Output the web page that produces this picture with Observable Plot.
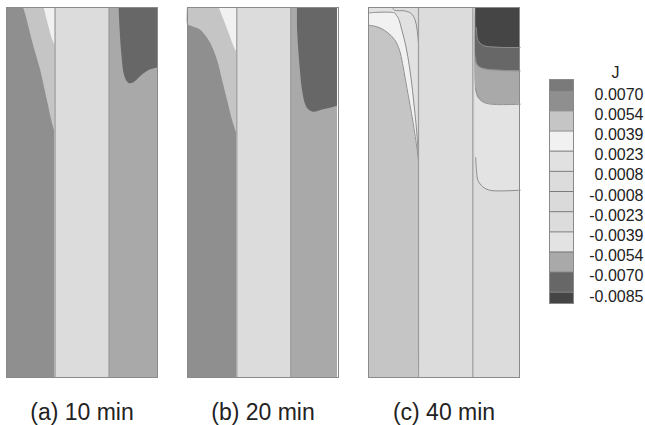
<!DOCTYPE html>
<html><head><meta charset="utf-8">
<script src="https://cdn.jsdelivr.net/npm/d3@7"></script>
<script src="https://cdn.jsdelivr.net/npm/@observablehq/plot@0.6"></script>
<style>
body{margin:0;background:#fff;}
#wrap{position:relative;width:645px;height:425px;font-family:"Liberation Sans",Arial,sans-serif;}
#legend{position:absolute;left:540px;top:0;}
#main{position:absolute;left:0;top:0;}
</style></head><body><div id="wrap"><div id="main"></div><div id="legend"></div></div>
<script>
// ---- data ----
const panels = ["(a) 10 min", "(b) 20 min", "(c) 40 min"];
const levelLabels = ["0.0070","0.0054","0.0039","0.0023","0.0008","-0.0008","-0.0023","-0.0039","-0.0054","-0.0070","-0.0085"];
const levelColors = ["#7a7a7a","#8f8f8f","#c5c5c5","#f1f1f1","#e1e1e1","#dcdcdc","#dadada","#dcdcdc","#e3e3e3","#a9a9a9","#676767","#454545"]; // top -> bottom

// column edges (x across panel) and column values of J
const edgesA = [0, 48.6, 102.6, 151];
const edgesB = [0, 49.3, 103.3, 150];
const edgesC = [0, 50, 104.3, 151.7];
const columnJA = [0.0062, 0, -0.0062];
const columnJB = [0.0062, 0, -0.0062];
const columnJC = [0.0015, 0, -0.0031];

// region boundaries in left columns: [depth, x]
const aBandEdge = [[0,17],[10,20],[26,24],[45,29],[62,34],[80,38],[98,42],[112,45],[125,48.6]];
const aTipEdge  = [[0,37.6],[10,40],[20,42.6],[30,45.3],[38,48.6]];
const bBandEdge = [[0,0],[17,0],[18,2],[19.5,6],[22.7,13.3],[28,18],[36,23.3],[52.7,30],[72.7,35],[92.7,40],[112.7,45],[126,49.3]];
const bTipEdge  = [[0,31.6],[12.7,36.6],[26,41.6],[39.4,46.6],[44.4,49.3]];
const cCornerEdge = [[0,24],[2.7,26],[3.4,36],[6,42.7],[12.7,46.7],[22.7,48.7],[36,50]];
const cWhiteEdge  = [[5.4,26],[8,28],[11,30],[22.7,33.4],[39.4,37.5],[59.4,41],[82.7,44],[106,46.5],[129,48.6],[149,49.8],[153,50]];
const cLowEdge    = [[17.7,0],[18.7,5.9],[21,12.7],[25.4,19.4],[32,26],[42.7,31],[56,34],[72.7,37],[89.4,40],[106,43],[126,46.3],[149,49.5],[153,50],[370,50]];
// region boundaries in right columns: [x, depth]
const aDarkEdge = [[112.6,0],[113.5,20],[115,43],[117.6,66],[119.5,72],[122.6,76],[127,75.5],[134.3,69],[142.6,63],[151,60.5]];
const bDarkEdge = [[110,0],[110.3,26],[112.6,59.4],[115,82.7],[118.3,97.7],[121,102],[125,104.4],[129,104.5],[133.3,103],[141.6,101],[150,98.7]];
const cE2Edge = [[107,0],[107.2,150],[108,163],[109.4,172.7],[114.4,179.4],[121,182.7],[132.7,183.4],[151.7,182.7]];
const cA8Edge = [[106.7,0],[107,80],[109.4,89.4],[114.4,94.4],[122.7,96.7],[151.7,96.7]];
const c66Edge = [[107,0],[107.3,50],[108,56],[111,59.4],[117.7,61.7],[151.7,63.4]];
const c44Edge = [[107.7,0],[108,20],[109.4,32.7],[114.4,37.7],[122.7,39.4],[151.7,40]];

// ---- build tables ----
const levels = levelLabels.map(Number);
const thresholds = levels.slice().reverse();
const colorsAsc = levelColors.slice().reverse();
const colorScale = {type: "threshold", domain: thresholds, range: colorsAsc};

const columns = [];
[[panels[0], edgesA, columnJA], [panels[1], edgesB, columnJB], [panels[2], edgesC, columnJC]].forEach(([panel, e, js]) => {
  js.forEach((J, i) => columns.push({panel, x1: e[i], x2: e[i+1], J}));
});
const edgeRules = [];
[[panels[0], edgesA], [panels[1], edgesB], [panels[2], edgesC]].forEach(([panel, e]) => {
  edgeRules.push({panel, x: e[1]}, {panel, x: e[2]});
});

const xRegions = [];
function xRegion(panel, id, J, edge, side, colEdge) {
  edge.forEach(([d, x]) => xRegions.push(side === "right" ? {panel, id, J, d, x1: x, x2: colEdge} : {panel, id, J, d, x1: 0, x2: x}));
}
xRegion(panels[0], "aBand", 0.0046, aBandEdge, "right", edgesA[1]);
xRegion(panels[0], "aTip", 0.0031, aTipEdge, "right", edgesA[1]);
xRegion(panels[1], "bBand", 0.0046, bBandEdge, "right", edgesB[1]);
xRegion(panels[1], "bTip", 0.0031, bTipEdge, "right", edgesB[1]);
xRegion(panels[2], "cCorner", 0, cCornerEdge, "right", edgesC[1]);
xRegion(panels[2], "cWhite", 0.0031, cWhiteEdge, "left", 0);
xRegion(panels[2], "cLow", 0.0046, cLowEdge, "left", 0);

const yRegions = [];
function yRegion(panel, id, J, edge) {
  edge.forEach(([x, d]) => yRegions.push({panel, id, J, x, d}));
}
yRegion(panels[0], "aDark", -0.0078, aDarkEdge);
yRegion(panels[1], "bDark", -0.0078, bDarkEdge);
yRegion(panels[2], "cE2", -0.0046, cE2Edge);
yRegion(panels[2], "cA8", -0.0062, cA8Edge);
yRegion(panels[2], "c66", -0.0078, c66Edge);
yRegion(panels[2], "c44", -0.0092, c44Edge);

// contour lines (panel c only)
const contours = [];
function addLine(id, pts) { pts.forEach(([x, d]) => contours.push({panel: panels[2], id, x, d})); }
addLine("corner", cCornerEdge.map(([d, x]) => [x, d]));
addLine("white", [[0, 5.4], ...cWhiteEdge.map(([d, x]) => [x, d])]);
addLine("low", cLowEdge.slice(0, -1).map(([d, x]) => [x, d]));
addLine("e2", cE2Edge.slice(1));
addLine("a8", cA8Edge.slice(1));
addLine("s66", c66Edge.slice(1));
addLine("s44", c44Edge.slice(1));

const font = '"Liberation Sans", Arial, sans-serif';

const main = Plot.plot({
  width: 645, height: 425,
  marginLeft: 6, marginRight: 126, marginTop: 7, marginBottom: 48,
  style: {fontFamily: font, color: "#222", background: "transparent"},
  fx: {domain: panels, paddingInner: 0.166, paddingOuter: 0, label: null},
  x: {domain: [0, 151], axis: null},
  y: {domain: [0, 370], reverse: true, axis: null},
  color: colorScale,
  marks: [
    Plot.rect(columns, {fx: "panel", x1: "x1", x2: "x2", y1: 0, y2: 370, fill: "J"}),
    Plot.areaX(xRegions, {fx: "panel", y: "d", x1: "x1", x2: "x2", fill: "J", z: "id", curve: "catmull-rom"}),
    Plot.areaY(yRegions, {fx: "panel", x: "x", y1: 0, y2: "d", fill: "J", z: "id", curve: "catmull-rom"}),
    Plot.line(contours, {fx: "panel", x: "x", y: "d", z: "id", stroke: "#8e8e8e", strokeWidth: 1, curve: "catmull-rom"}),
    Plot.ruleX(edgeRules, {fx: "panel", x: "x", y1: 0, y2: 370, stroke: "#9c9c9c", strokeWidth: 1.2}),
    Plot.frame({stroke: "#8a8a8a"}),
    Plot.axisFx({anchor: "bottom", tickSize: 0, tickPadding: 26, fontSize: 23, label: null})
  ]
});
document.getElementById("main").appendChild(main);

// ---- legend ----
const swatches = levelColors.map((c, k) => ({
  y1: Math.max(k - 1, -0.55),
  y2: Math.min(k, levels.length - 0.45),
  J: k === 0 ? levels[0] + 0.0008 : k === levelColors.length - 1 ? levels[levels.length - 1] - 0.0008 : (levels[k - 1] + levels[k]) / 2
}));
const legend = Plot.plot({
  width: 105, height: 320,
  marginLeft: 9, marginRight: 72, marginTop: 79, marginBottom: 17,
  style: {fontFamily: font, color: "#222", background: "transparent", overflow: "visible"},
  x: {domain: [0, 1], axis: null},
  y: {domain: [-0.55, levels.length - 0.45], reverse: true, axis: null},
  color: colorScale,
  marks: [
    Plot.rect(swatches, {x1: 0, x2: 1, y1: "y1", y2: "y2", fill: "J"}),
    Plot.ruleY(d3.range(levels.length), {stroke: "#7a7a7a"}),
    Plot.frame({stroke: "#8a8a8a"}),
    Plot.text(levelLabels, {y: (d, i) => i, x: 1, dx: 70, dy: 4, textAnchor: "end", fontSize: 16, fill: "#222"}),
    Plot.text(["J"], {x: 1, dx: 42, frameAnchor: "top", dy: -13, fontSize: 16, fill: "#222"})
  ]
});
document.getElementById("legend").appendChild(legend);
</script></body></html>
